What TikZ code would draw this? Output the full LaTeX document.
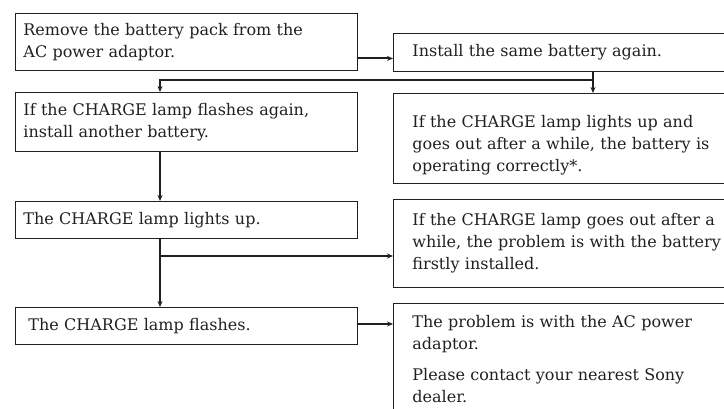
\documentclass[tikz,border=0pt]{standalone}
\usepackage{fontspec}
\setmainfont{DejaVu Serif}
\usepackage{xcolor}
\definecolor{ink}{RGB}{35,31,32}
\usepackage{tikz}
\usetikzlibrary{arrows.meta,positioning}

\begin{document}
\begin{tikzpicture}[x=1pt, y=-1pt,
    every node/.append style={font=\fontsize{16}{22}\selectfont, text=ink},
    stage box/.style={draw=ink, line width=0.9pt, anchor=north west, align=left, inner xsep=7pt, inner ysep=0pt, minimum width=342pt, text width=326pt},
    result box/.style={draw=ink, line width=0.9pt, anchor=north west, align=left, inner xsep=19pt, inner ysep=0pt, minimum width=358pt, text width=320pt},
    conn/.style={draw=ink, line width=2pt, -{Stealth[length=6pt, width=5pt]}}
]
\useasboundingbox (0,0) rectangle (724,409);

% left column: what to do / what you see
\node[stage box, minimum height=57pt] (remove) at (15,13) {Remove the battery pack from the\\AC power adaptor.};
\node[stage box, minimum height=59pt] (again) at (15,92) {If the CHARGE lamp flashes again,\\install another battery.};
\node[stage box, minimum height=37pt] (lightsup) at (15,201) {The CHARGE lamp lights up.};
\node[stage box, minimum height=37pt, inner xsep=12pt, text width=316pt] (flashes) at (15,307) {The CHARGE lamp flashes.};

% right column: results
\node[result box, minimum height=38pt] (install) at (393,33) {Install the same battery again.};
\node[result box, minimum height=90pt] (correct) at (393,93) {\rule{0pt}{26pt}If the CHARGE lamp lights up and\\goes out after a while, the battery is\\operating correctly*.};
\node[result box, minimum height=88pt] (first) at (393,199) {If the CHARGE lamp goes out after a\\while, the problem is with the battery\\firstly installed.};
\node[result box, minimum height=112pt] (adaptor) at (393,303) {The problem is with the AC power\\adaptor.\\[9pt]Please contact your nearest Sony\\dealer.};

% branch points
\coordinate (trunk) at (160,0);
\coordinate (split1) at (593,80);
\coordinate (split2) at (160,256);

% connectors
\draw[conn] ([yshift=-16.5pt]remove.east) -- ([yshift=-16.5pt]remove.east -| install.west);
\draw[conn] (install.south -| split1) -- (split1) -| (again.north -| trunk);
\draw[conn] (split1) -- (correct.north -| split1);
\draw[conn] (again.south -| trunk) -- (lightsup.north -| trunk);
\draw[conn] (lightsup.south -| trunk) -- (flashes.north -| trunk);
\draw[conn] (split2) -- (first.west |- split2);
\draw[conn] ([yshift=2pt]flashes.east) -- ([yshift=2pt]flashes.east -| adaptor.west);

\end{tikzpicture}
\end{document}
